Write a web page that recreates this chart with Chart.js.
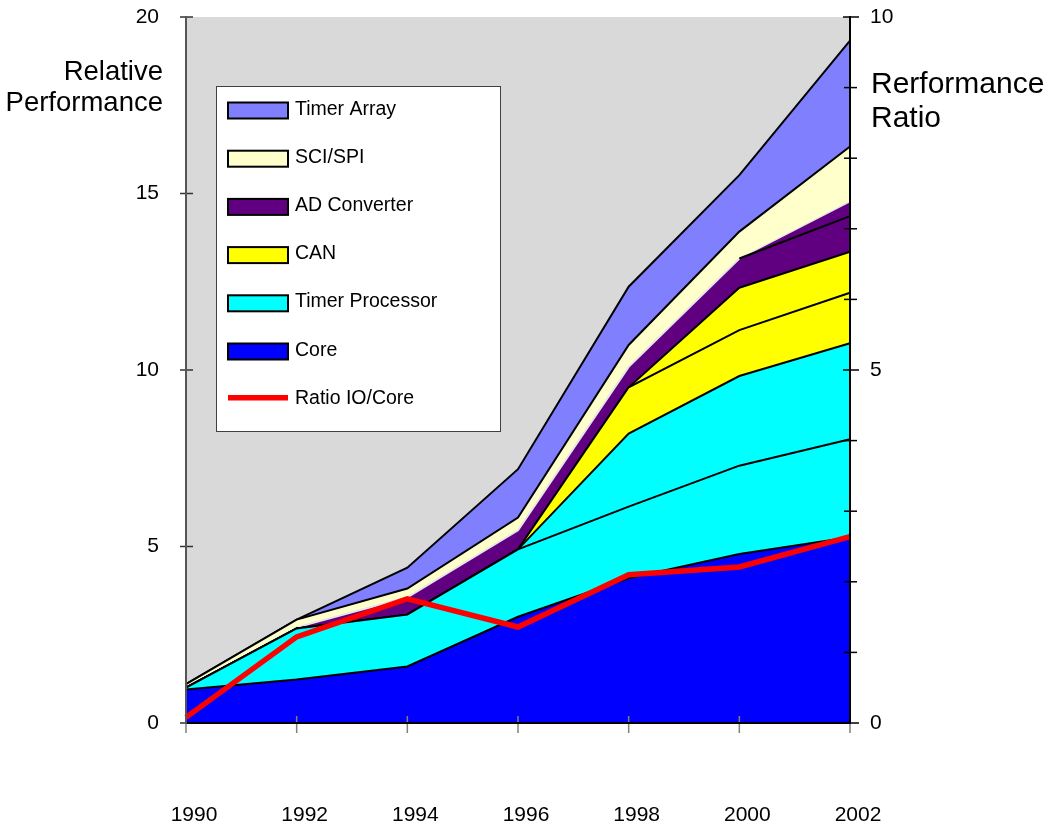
<!DOCTYPE html>
<html>
<head>
<meta charset="utf-8">
<title>Relative Performance</title>
<script src="https://cdn.jsdelivr.net/npm/chart.js@4/dist/chart.umd.min.js"></script>
<style>
  html, body { margin: 0; padding: 0; background: #ffffff; }
  #wrap { width: 1048px; height: 830px; }
</style>
</head>
<body>
<div id="wrap"><canvas id="chart" width="1048" height="830"></canvas></div>
<script>
// Categories
const years = ['1990', '1992', '1994', '1996', '1998', '2000', '2002'];

// Stacked components (relative performance, left axis)
const core               = [0.95, 1.23, 1.60, 3.01, 4.10, 4.79, 5.26];
const timerProcessorBase = [0.05, 1.45, 1.47, 1.91, 2.03, 2.50, 2.78];
const timerProcessorExt  = [0,    0,    0,    0,    2.07, 2.54, 2.72];
const canBase            = [0,    0,    0,    0,    1.31, 1.30, 1.43];
const canExt             = [0,    0,    0,    0,    0,    1.20, 1.16];
const adConverterBase    = [0,    0.03, 0.49, 0.54, 0.58, 0.83, 1.01];
const adConverterExt     = [0,    0,    0,    0,    0,    0,    0.41];
const sciSpi             = [0.10, 0.22, 0.25, 0.36, 0.62, 0.76, 1.56];
const timerArray         = [0,    0,    0.59, 1.37, 1.65, 1.60, 3.00];

// IO / core ratio (right axis)
const ratioIoCore        = [0.08, 1.22, 1.76, 1.36, 2.10, 2.21, 2.64];

// Axis titles
const leftTitle  = ['Relative', 'Performance'];
const rightTitle = ['Rerformance', 'Ratio'];

const FONT = "'Liberation Sans', Arial, Helvetica, sans-serif";
const SEAM = '#E6E6E6';

// Every band is filled down to the origin; lower bands are painted later
// and cover the rest, so adjoining bands never leave hairline gaps.
function area(label, data, color, extra) {
  return Object.assign({
    label, data,
    yAxisID: 'y',
    backgroundColor: color,
    borderColor: '#000000',
    borderWidth: 2,
    pointRadius: 0,
    pointHoverRadius: 0,
    tension: 0,
    fill: 'origin',
    swatch: 'box'
  }, extra || {});
}

const datasets = [
  {
    label: 'Ratio IO/Core', data: ratioIoCore, yAxisID: 'y1',
    borderColor: '#FF0000', backgroundColor: '#FF0000', borderWidth: 5.5,
    pointRadius: 0, pointHoverRadius: 0, tension: 0, fill: false,
    borderJoinStyle: 'miter', swatch: 'line'
  },
  area('Core', core, '#0000FF'),
  area('Timer Processor', timerProcessorBase, '#00FFFF'),
  area('Timer Processor', timerProcessorExt, '#00FFFF', { inLegend: false }),
  area('CAN', canBase, '#FFFF00'),
  area('CAN', canExt, '#FFFF00', { inLegend: false }),
  area('AD Converter', adConverterBase, '#600080', {
    // dark edge only where the upper AD part has some thickness
    segment: {
      borderColor: c => (adConverterExt[c.p0DataIndex] === 0 && adConverterExt[c.p1DataIndex] === 0) ? SEAM : '#000000'
    }
  }),
  area('AD Converter', adConverterExt, '#600080', { inLegend: false, borderColor: SEAM, borderWidth: 1.3 }),
  area('SCI/SPI', sciSpi, '#FFFFCC'),
  area('Timer Array', timerArray, '#8080FF')
];

// Light gray plot area
const plotBackground = {
  id: 'plotBackground',
  beforeDraw(chart) {
    const { ctx, chartArea: a } = chart;
    ctx.save();
    ctx.fillStyle = '#D9D9D9';
    ctx.fillRect(a.left, a.top, a.right - a.left, a.bottom - a.top);
    ctx.restore();
  }
};

// Tick marks that cross the axis lines
const crossTicks = {
  id: 'crossTicks',
  afterDatasetsDraw(chart) {
    const { ctx, chartArea: a } = chart;
    const sx = chart.scales.x, sy = chart.scales.y, sy1 = chart.scales.y1;
    const seg = (x1, y1, x2, y2) => { ctx.beginPath(); ctx.moveTo(x1, y1); ctx.lineTo(x2, y2); ctx.stroke(); };
    ctx.save();
    ctx.lineWidth = 1.5;
    ctx.strokeStyle = '#808080';
    sx.ticks.forEach((t, i) => {
      const px = sx.getPixelForTick(i);
      seg(px, a.bottom - 7, px, a.bottom + 10);
    });
    ctx.strokeStyle = '#333333';
    sy.ticks.forEach(t => {
      const py = sy.getPixelForValue(t.value);
      seg(a.left - 6, py, a.left + 7, py);
    });
    ctx.strokeStyle = '#000000';
    sy1.ticks.forEach(t => {
      const py = sy1.getPixelForValue(t.value);
      if (t.value % 5 === 0) seg(a.right - 7, py, a.right + 9, py);
      else seg(a.right - 6, py, a.right + 7, py);
    });
    ctx.restore();
  }
};

// Axis titles written horizontally beside each axis
const axisTitles = {
  id: 'axisTitles',
  afterDraw(chart) {
    const { ctx, chartArea: a } = chart;
    ctx.save();
    ctx.fillStyle = '#000000';
    ctx.textBaseline = 'middle';
    ctx.font = '27.5px ' + FONT;
    ctx.textAlign = 'right';
    leftTitle.forEach((s, i) => ctx.fillText(s, a.left - 23, a.top + 55 + i * 31));
    ctx.font = '30px ' + FONT;
    ctx.textAlign = 'left';
    rightTitle.forEach((s, i) => ctx.fillText(s, a.right + 21, a.top + 68 + i * 34));
    ctx.restore();
  }
};

// Legend box inside the plot area
const insetLegend = {
  id: 'insetLegend',
  afterDraw(chart) {
    const { ctx, chartArea: a } = chart;
    const all = chart.data.datasets;
    const items = [];
    for (let i = all.length - 1; i >= 0; i--) {
      const d = all[i];
      if (d.swatch === 'box' && d.inLegend !== false) items.push(d);
    }
    all.filter(d => d.swatch === 'line').forEach(d => items.push(d));

    const bx = a.left + 30.5, by = a.top + 69.5, bw = 284, bh = 345;
    ctx.save();
    ctx.fillStyle = '#FFFFFF';
    ctx.fillRect(bx, by, bw, bh);
    ctx.strokeStyle = '#404040';
    ctx.lineWidth = 1;
    ctx.strokeRect(bx, by, bw, bh);

    ctx.font = '19.5px ' + FONT;
    ctx.textAlign = 'left';
    ctx.textBaseline = 'alphabetic';
    items.forEach((d, k) => {
      const base = a.top + 97.5 + k * 48.2;
      const sx = a.left + 42;
      if (d.swatch === 'box') {
        ctx.fillStyle = d.backgroundColor;
        ctx.fillRect(sx, base - 12, 60, 16);
        ctx.strokeStyle = '#000000';
        ctx.lineWidth = 2;
        ctx.strokeRect(sx, base - 12, 60, 16);
      } else {
        ctx.strokeStyle = d.borderColor;
        ctx.lineWidth = 5.5;
        ctx.beginPath();
        ctx.moveTo(sx, base - 6);
        ctx.lineTo(sx + 60, base - 6);
        ctx.stroke();
      }
      ctx.fillStyle = '#000000';
      ctx.fillText(d.label, a.left + 109, base);
    });
    ctx.restore();
  }
};

// Keep vertical axes from reserving extra room above the plot
function fitVertical(width) {
  return s => { s.width = width; s.paddingTop = 0; s.paddingBottom = 0; };
}

new Chart(document.getElementById('chart'), {
  type: 'line',
  data: { labels: years, datasets },
  plugins: [plotBackground, crossTicks, axisTitles, insetLegend],
  options: {
    responsive: false,
    animation: false,
    devicePixelRatio: 1,
    layout: { padding: { top: 17, left: 0, right: 0, bottom: 0 } },
    plugins: {
      legend: { display: false },
      title: { display: false },
      tooltip: { enabled: false },
      filler: { propagate: false }
    },
    scales: {
      x: {
        type: 'category',
        offset: false,
        grid: { display: false, drawTicks: false },
        border: { display: true, color: '#000000', width: 2, z: 1 },
        ticks: {
          color: '#000000', font: { family: FONT, size: 21 },
          padding: 80, labelOffset: 8, maxRotation: 0, autoSkip: false
        },
        afterFit: s => { s.height = 107; s.paddingLeft = 0; s.paddingRight = 0; }
      },
      y: {
        position: 'left',
        stacked: true,
        min: 0, max: 20,
        grid: { display: false, drawTicks: false },
        border: { display: true, color: '#555555', width: 2, z: 1 },
        ticks: { stepSize: 5, color: '#000000', font: { family: FONT, size: 21 }, padding: 27 },
        afterFit: fitVertical(186)
      },
      y1: {
        position: 'right',
        stacked: false,
        min: 0, max: 10,
        grid: { display: false, drawTicks: false },
        border: { display: true, color: '#000000', width: 2, z: 1 },
        ticks: {
          stepSize: 1, autoSkip: false, color: '#000000', font: { family: FONT, size: 21 }, padding: 20,
          callback: v => (v % 5 === 0 ? String(v) : '')
        },
        afterFit: fitVertical(198)
      }
    }
  }
});
</script>
</body>
</html>
